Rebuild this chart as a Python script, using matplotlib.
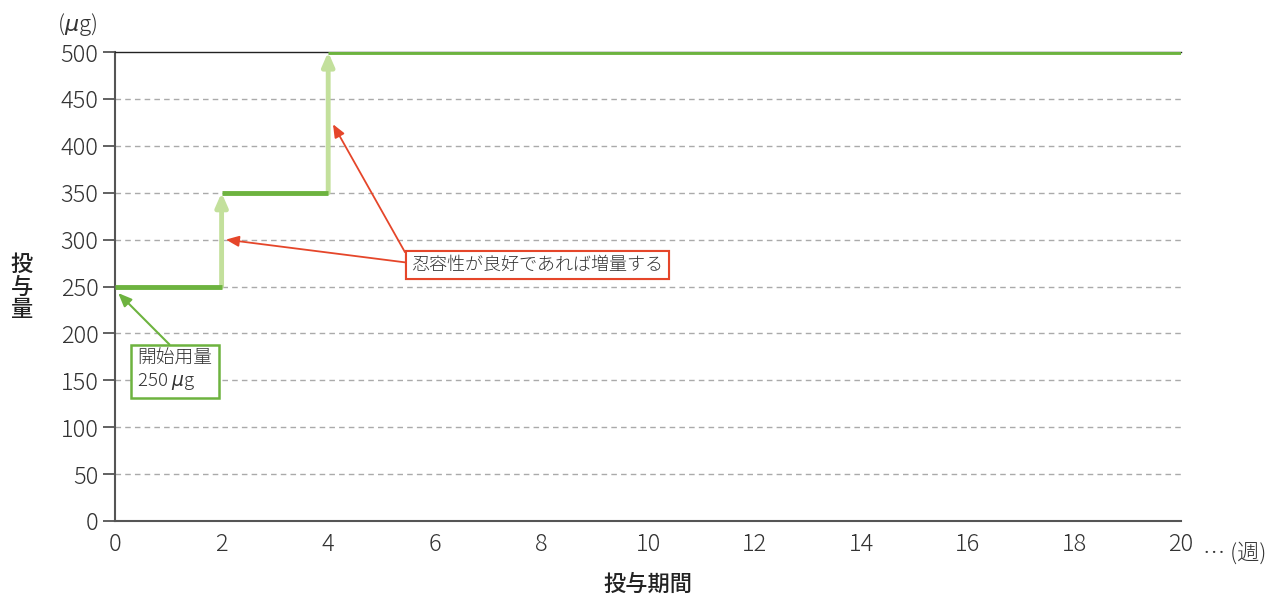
import matplotlib.pyplot as plt

plt.rcParams['font.family'] = ['Noto Sans CJK JP', 'DejaVu Sans']

# dose schedule (weeks, µg)
seg_start = [0, 2, 4]
seg_end = [2, 4, 20]
doses = [250, 350, 500]

x_ticks = list(range(0, 21, 2))
y_ticks = list(range(0, 501, 50))

dark_green = '#6db33f'
light_green = '#c3e09c'
red = '#e5462a'
text_col = '#333333'

fig = plt.figure(figsize=(12.71, 5.96), dpi=100)
ax = fig.add_axes([115 / 1271, 1 - 521 / 596, 1066 / 1271, 469 / 596])

ax.set_xlim(0, 20)
ax.set_ylim(0, 500)

# dashed grid
for y in y_ticks[1:-1]:
    ax.axhline(y, color='#aaaaaa', ls=(0, (4, 3)), lw=1, zorder=1)

# dose levels
ax.hlines(doses, seg_start, seg_end, color=dark_green, lw=3.5, zorder=3)

# step-up arrows
for i in range(1, len(doses)):
    ax.annotate('', xy=(seg_start[i], doses[i]), xytext=(seg_start[i], doses[i - 1]),
                arrowprops=dict(arrowstyle='-|>,head_width=0.35,head_length=0.8',
                                color=light_green, lw=3.5, shrinkA=0, shrinkB=0),
                zorder=2)

# annotations
ax.annotate('開始用量\n250 $\\mu$g', xy=(0.06, 243), xytext=(0.42, 160),
            fontsize=13.5, fontweight='light', color=text_col, ha='left', va='center',
            linespacing=1.2,
            bbox=dict(boxstyle='square,pad=0.35', fc='white', ec=dark_green, lw=1.8),
            arrowprops=dict(arrowstyle='-|>,head_width=0.25,head_length=0.6',
                            color=dark_green, lw=1.5, shrinkA=0, shrinkB=0,
                            relpos=(0.5, 1.0)),
            zorder=5)

box_kw = dict(boxstyle='square,pad=0.3', fc='white', ec=red, lw=1.5)
arr_kw = dict(arrowstyle='-|>,head_width=0.25,head_length=0.6',
              color=red, lw=1.3, shrinkA=0, shrinkB=0, relpos=(0.0, 0.6))
for tip in [(2.08, 300), (4.09, 423)]:
    ax.annotate('忍容性が良好であれば増量する', xy=tip, xytext=(7.92, 273),
                fontsize=13, fontweight='light', color=text_col, ha='center', va='center',
                bbox=box_kw, arrowprops=arr_kw, zorder=5)

# axes styling
ax.spines['right'].set_visible(False)
ax.spines['top'].set_color('#222222')
ax.spines['top'].set_linewidth(1)
for s in ['left', 'bottom']:
    ax.spines[s].set_color('#555555')
    ax.spines[s].set_linewidth(1.5)

ax.set_xticks(x_ticks)
ax.set_yticks(y_ticks)
ax.tick_params(axis='x', length=0, pad=8, labelsize=17, labelcolor=text_col)
ax.tick_params(axis='y', length=9, width=1.3, color='#555555', pad=3,
               labelsize=17, labelcolor=text_col)
for lab in ax.get_xticklabels() + ax.get_yticklabels():
    lab.set_fontweight('light')

ax.text(-0.017, 1.03, '($\\mu$g)', transform=ax.transAxes, ha='right', va='bottom',
        fontsize=16, fontweight='light', color=text_col)
ax.text(20.42, -22, '… (週)', ha='left', va='top', fontsize=16, fontweight='light',
        color=text_col)

fig.text(22 / 1271, 1 - 287 / 596, '投\n与\n量', ha='center', va='center',
         fontsize=16, fontweight='medium', color='#222222', linespacing=1.0)
fig.text(648 / 1271, 1 - 584 / 596, '投与期間', ha='center', va='center',
         fontsize=16, fontweight='medium', color='#222222')

fig.savefig('out.png', dpi=100)
